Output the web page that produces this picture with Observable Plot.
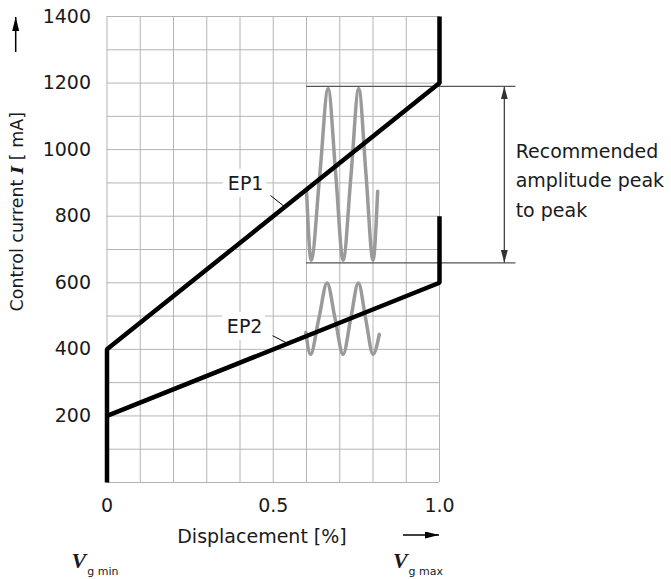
<!DOCTYPE html>
<html><head><meta charset="utf-8">
<script src="https://cdn.jsdelivr.net/npm/d3@7"></script>
<script src="https://cdn.jsdelivr.net/npm/@observablehq/plot@0.6"></script>
<style>
html,body{margin:0;padding:0;background:#fff;}
svg{display:block;}
</style></head><body><div id="chart"></div>
<script>
// ---- data ----
const xTicks = [0, 0.5, 1.0];
const xTickLabels = ["0", "0.5", "1.0"];
const yTicks = [200, 400, 600, 800, 1000, 1200, 1400];
const xGrid = [0, 0.1, 0.2, 0.3, 0.4, 0.5, 0.6, 0.7, 0.8, 0.9, 1.0];
const yGrid = [0, 100, 200, 300, 400, 500, 600, 700, 800, 900, 1000, 1100, 1200, 1300, 1400];

// characteristic lines (displacement, control current mA)
const ep1X = [0, 0, 1, 1];
const ep1Y = [0, 400, 1200, 1400];
const ep2X = [0, 1, 1];
const ep2Y = [200, 600, 800];

// dither signal sketches
const wave1X = [0.600, 0.614, 0.640, 0.665, 0.688, 0.710, 0.734, 0.757, 0.779, 0.800, 0.814];
const wave1Y = [880, 668, 925, 1183, 925, 668, 925, 1183, 925, 668, 875];
const wave2X = [0.598, 0.612, 0.637, 0.662, 0.686, 0.710, 0.733, 0.756, 0.778, 0.800, 0.819];
const wave2Y = [451, 385, 492, 599, 492, 385, 492, 599, 492, 385, 445];

// labels
const seriesNames = ["EP1", "EP2"];
const labelX = [0.417, 0.414];
const labelY = [896, 468];
const leaderX1 = [0.492, 0.498], leaderY1 = [862, 441];
const leaderX2 = [0.535, 0.543], leaderY2 = [828, 418];

// amplitude annotation
const ampLevels = [1190, 660];
const ampFromX = 0.6, ampToX = 1.23, ampArrowX = 1.195;
const ampText = "Recommended\namplitude peak\nto peak";
const ampTextX = 1.229, ampTextY = 915;

const FONT = "DejaVu Sans";
const INK = "#1a1a1a";

const table = (xs, ys) => xs.map((x, i) => ({x, y: ys[i]}));

const plot = Plot.plot({
  width: 671,
  height: 579,
  marginLeft: 106.5,
  marginRight: 232,
  marginTop: 16,
  marginBottom: 97,
  x: {domain: [0, 1]},
  y: {domain: [0, 1400]},
  style: {fontFamily: FONT, fontSize: "19px", color: INK, background: "#fff", overflow: "visible"},
  marks: [
    Plot.ruleX(xGrid, {stroke: "#b4b4b4", strokeWidth: 1}),
    Plot.ruleY(yGrid, {x1: 0, x2: 1, stroke: "#b4b4b4", strokeWidth: 1}),
    Plot.ruleY(ampLevels, {x1: ampFromX, x2: ampToX, stroke: "#555", strokeWidth: 1.2}),
    Plot.link([0], {x1: ampArrowX, x2: ampArrowX, y1: ampLevels[1], y2: ampLevels[0], stroke: "#444", strokeWidth: 1.3, ariaLabel: () => "amp-arrow"}),
    Plot.line(table(wave1X, wave1Y), {x: "x", y: "y", curve: "monotone-x", stroke: "#9a9a9a", strokeWidth: 3.5}),
    Plot.line(table(wave2X, wave2Y), {x: "x", y: "y", curve: "monotone-x", stroke: "#9a9a9a", strokeWidth: 3.5}),
    Plot.line(table(ep1X, ep1Y), {x: "x", y: "y", stroke: "#000", strokeWidth: 4.5, strokeLinejoin: "miter", strokeLinecap: "butt"}),
    Plot.line(table(ep2X, ep2Y), {x: "x", y: "y", stroke: "#000", strokeWidth: 4.5, strokeLinejoin: "miter", strokeLinecap: "butt"}),
    Plot.link(seriesNames, {x1: (d, i) => leaderX1[i], y1: (d, i) => leaderY1[i], x2: (d, i) => leaderX2[i], y2: (d, i) => leaderY2[i], stroke: "#000", strokeWidth: 1}),
    Plot.text(seriesNames, {x: (d, i) => labelX[i], y: (d, i) => labelY[i], text: d => d, fill: INK, stroke: "white", strokeWidth: 14, fontSize: 19}),
    Plot.text([ampText], {x: ampTextX, y: ampTextY, text: d => d, textAnchor: "start", lineAnchor: "middle", lineHeight: 1.55, fill: INK, fontSize: 19}),
    Plot.axisX(xTicks, {tickSize: 0, tickPadding: 16, tickFormat: (d, i) => xTickLabels[i], label: null, fontSize: 19}),
    Plot.axisY(yTicks, {tickSize: 0, tickPadding: 16, tickFormat: d => String(d), label: null, fontSize: 19})
  ]
});

document.getElementById("chart").appendChild(plot);

// ---- decorations positioned from the plot's scales ----
const sx = v => plot.scale("x").apply(v);
const sy = v => plot.scale("y").apply(v);
const svg = d3.select(plot);

const defs = svg.append("defs");
defs.append("marker")
  .attr("id", "ahead").attr("viewBox", "0 0 13 7").attr("refX", 13).attr("refY", 3.5)
  .attr("markerWidth", 13).attr("markerHeight", 7).attr("markerUnits", "userSpaceOnUse")
  .attr("orient", "auto-start-reverse")
  .append("path").attr("d", "M0,0L13,3.5L0,7Z").attr("fill", "#333");
defs.append("marker")
  .attr("id", "bhead").attr("viewBox", "0 0 14 7").attr("refX", 14).attr("refY", 3.5)
  .attr("markerWidth", 14).attr("markerHeight", 7).attr("markerUnits", "userSpaceOnUse")
  .attr("orient", "auto")
  .append("path").attr("d", "M0,0L14,3.5L0,7Z").attr("fill", "#000");

// attach the filled heads to the amplitude link
let ampPaths = svg.selectAll('[aria-label="amp-arrow"]');
ampPaths.each(function () {
  const el = d3.select(this);
  const target = this.tagName.toLowerCase() === "g" ? el.selectAll("path, line") : el;
  target.attr("marker-start", "url(#ahead)").attr("marker-end", "url(#ahead)");
});

const deco = svg.append("g").attr("font-family", FONT).attr("fill", INK);

// x axis title + arrow
deco.append("text").attr("x", 262).attr("y", 543).attr("text-anchor", "middle")
  .attr("font-size", 19).text("Displacement [%]");
deco.append("line").attr("x1", 403).attr("x2", sx(1)).attr("y1", 535).attr("y2", 535)
  .attr("stroke", "#000").attr("stroke-width", 1.5).attr("marker-end", "url(#bhead)");

// y axis title + arrow
const yt = deco.append("text").attr("transform", "translate(23,112) rotate(-90)")
  .attr("text-anchor", "end").attr("font-size", 17.5);
yt.append("tspan").text("Control current ");
yt.append("tspan").attr("font-family", "DejaVu Serif").attr("font-style", "italic").attr("font-weight", "bold").text("I");
yt.append("tspan").text(" [ mA]");
deco.append("line").attr("x1", 15.7).attr("x2", 15.7).attr("y1", 52).attr("y2", sy(1400) + 1)
  .attr("stroke", "#000").attr("stroke-width", 1.5).attr("marker-end", "url(#bhead)");

// V_g min / V_g max
function vLabel(x, sub) {
  const t = deco.append("text").attr("x", x).attr("y", 568);
  t.append("tspan").attr("font-family", "Liberation Serif").attr("font-style", "italic")
    .attr("font-weight", "bold").attr("font-size", 22).text("V");
  t.append("tspan").attr("font-size", 11).attr("dy", 7).attr("dx", 1).text(sub);
}
vLabel(sx(0) - 11.5, "g min");
vLabel(sx(1) - 21, "g max");
</script>
</body></html>
